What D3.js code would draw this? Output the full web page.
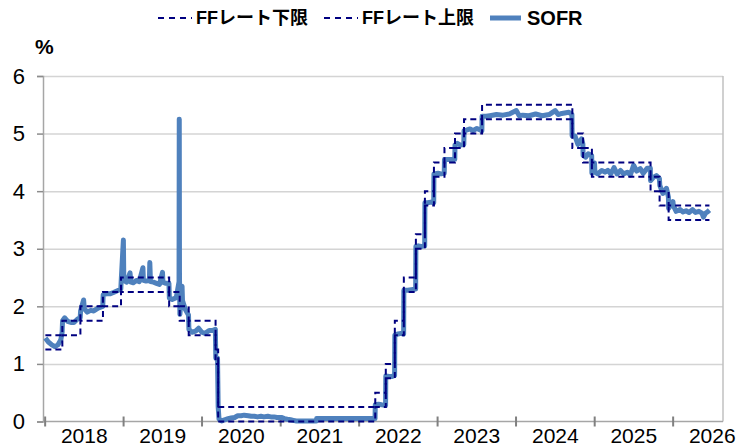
<!DOCTYPE html>
<html>
<head>
<meta charset="utf-8">
<script src="https://cdn.jsdelivr.net/npm/d3@7"></script>
<style>
    body { margin: 0; background: #fff; }
    svg { display: block; }
</style>
</head>
<body>
<svg id="chart"></svg>
<script>
// FF rate target range (change dates, lower / upper bound)
const ffDates = [
    '2018-01-02', '2018-03-22', '2018-06-14', '2018-09-27', '2018-12-20',
    '2019-08-01', '2019-09-19', '2019-10-31', '2020-03-04', '2020-03-16',
    '2022-03-17', '2022-05-05', '2022-06-16', '2022-07-28', '2022-09-22',
    '2022-11-03', '2022-12-15', '2023-02-02', '2023-03-23', '2023-05-04',
    '2023-07-27', '2024-09-19', '2024-11-08', '2024-12-19', '2025-09-18',
    '2025-10-30', '2025-12-11', '2026-06-19',
];
const ffLower = [
    1.25, 1.50, 1.75, 2.00, 2.25,
    2.00, 1.75, 1.50, 1.00, 0.00,
    0.25, 0.75, 1.50, 2.25, 3.00,
    3.75, 4.25, 4.50, 4.75, 5.00,
    5.25, 4.75, 4.50, 4.25, 4.00,
    3.75, 3.50, 3.50,
];
const ffUpper = [
    1.50, 1.75, 2.00, 2.25, 2.50,
    2.25, 2.00, 1.75, 1.25, 0.25,
    0.50, 1.00, 1.75, 2.50, 3.25,
    4.00, 4.50, 4.75, 5.00, 5.25,
    5.50, 5.00, 4.75, 4.50, 4.25,
    4.00, 3.75, 3.75,
];

// SOFR
const sofrDates = [
    '2018-01-02', '2018-01-16', '2018-02-01', '2018-02-15', '2018-03-01', '2018-03-15', '2018-03-21', '2018-03-23',
    '2018-04-02', '2018-04-16', '2018-05-01', '2018-05-15', '2018-06-01', '2018-06-13', '2018-06-15', '2018-06-29',
    '2018-07-02', '2018-07-16', '2018-08-01', '2018-08-15', '2018-09-04', '2018-09-26', '2018-09-28', '2018-10-15',
    '2018-11-01', '2018-11-15', '2018-12-03', '2018-12-19', '2018-12-21', '2018-12-31', '2019-01-02', '2019-01-15',
    '2019-01-31', '2019-02-04', '2019-02-15', '2019-03-01', '2019-03-15', '2019-04-01', '2019-04-03', '2019-04-15',
    '2019-05-01', '2019-05-03', '2019-05-06', '2019-05-20', '2019-06-03', '2019-06-17', '2019-07-01', '2019-07-03',
    '2019-07-15', '2019-07-31', '2019-08-02', '2019-08-15', '2019-09-03', '2019-09-16', '2019-09-17', '2019-09-18',
    '2019-09-20', '2019-09-30', '2019-10-02', '2019-10-15', '2019-10-30', '2019-11-01', '2019-11-15', '2019-12-02',
    '2019-12-16', '2019-12-31', '2020-01-15', '2020-02-03', '2020-02-18', '2020-03-03', '2020-03-05', '2020-03-13',
    '2020-03-16', '2020-03-20', '2020-04-01', '2020-04-15', '2020-05-01', '2020-05-15', '2020-06-01', '2020-06-15',
    '2020-07-01', '2020-07-15', '2020-08-03', '2020-08-17', '2020-09-01', '2020-09-15', '2020-10-01', '2020-10-15',
    '2020-11-02', '2020-11-16', '2020-12-01', '2020-12-15', '2021-01-04', '2021-01-19', '2021-02-01', '2021-02-16',
    '2021-03-01', '2021-03-15', '2021-04-01', '2021-05-03', '2021-06-01', '2021-06-16', '2021-06-17', '2021-07-01',
    '2021-08-02', '2021-09-01', '2021-10-01', '2021-11-01', '2021-12-01', '2022-01-03', '2022-02-01', '2022-03-16',
    '2022-03-17', '2022-04-01', '2022-04-15', '2022-05-04', '2022-05-05', '2022-05-20', '2022-06-01', '2022-06-15',
    '2022-06-16', '2022-07-01', '2022-07-15', '2022-07-27', '2022-07-28', '2022-08-15', '2022-09-01', '2022-09-21',
    '2022-09-22', '2022-10-03', '2022-10-17', '2022-11-02', '2022-11-03', '2022-11-15', '2022-12-01', '2022-12-14',
    '2022-12-15', '2023-01-03', '2023-01-17', '2023-02-01', '2023-02-02', '2023-02-15', '2023-03-01', '2023-03-22',
    '2023-03-23', '2023-04-03', '2023-04-17', '2023-05-03', '2023-05-04', '2023-05-15', '2023-06-01', '2023-06-15',
    '2023-07-03', '2023-07-26', '2023-07-27', '2023-08-15', '2023-09-01', '2023-10-02', '2023-11-01', '2023-12-01',
    '2024-01-02', '2024-01-16', '2024-02-01', '2024-03-01', '2024-04-01', '2024-05-01', '2024-06-03', '2024-07-01',
    '2024-07-15', '2024-08-01', '2024-09-03', '2024-09-17', '2024-09-18', '2024-10-01', '2024-10-15', '2024-11-01',
    '2024-11-07', '2024-11-08', '2024-11-20', '2024-12-02', '2024-12-18', '2024-12-19', '2024-12-31', '2025-01-02',
    '2025-01-15', '2025-02-03', '2025-02-18', '2025-03-03', '2025-03-17', '2025-04-01', '2025-04-15', '2025-05-01',
    '2025-05-15', '2025-06-02', '2025-06-16', '2025-07-01', '2025-07-15', '2025-08-01', '2025-08-15', '2025-09-02',
    '2025-09-17', '2025-09-18', '2025-10-01', '2025-10-15', '2025-10-29', '2025-10-31', '2025-11-14', '2025-12-01',
    '2025-12-10', '2025-12-11', '2025-12-31', '2026-01-02', '2026-01-15', '2026-02-02', '2026-02-16', '2026-03-02',
    '2026-03-16', '2026-04-01', '2026-04-15', '2026-05-01', '2026-05-15', '2026-05-22', '2026-06-01', '2026-06-10',
    '2026-06-19',
];
const sofrRates = [
    1.45, 1.38, 1.33, 1.30, 1.33, 1.42, 1.55, 1.75,
    1.80, 1.74, 1.72, 1.72, 1.78, 1.80, 1.92, 2.11,
    1.96, 1.90, 1.93, 1.92, 1.97, 2.00, 2.20, 2.22,
    2.22, 2.24, 2.27, 2.30, 2.45, 3.15, 2.45, 2.42,
    2.58, 2.42, 2.41, 2.45, 2.43, 2.67, 2.45, 2.44,
    2.45, 2.76, 2.43, 2.42, 2.40, 2.38, 2.59, 2.42,
    2.40, 2.40, 2.14, 2.12, 2.15, 2.43, 5.25, 2.55,
    1.86, 2.35, 2.10, 1.95, 1.85, 1.60, 1.55, 1.57,
    1.62, 1.55, 1.53, 1.58, 1.58, 1.60, 1.10, 1.10,
    0.26, 0.04, 0.01, 0.03, 0.05, 0.06, 0.07, 0.10,
    0.10, 0.11, 0.10, 0.09, 0.09, 0.08, 0.09, 0.08,
    0.09, 0.08, 0.08, 0.07, 0.07, 0.05, 0.04, 0.03,
    0.02, 0.01, 0.01, 0.01, 0.01, 0.01, 0.05, 0.05,
    0.05, 0.05, 0.05, 0.05, 0.05, 0.05, 0.05, 0.05,
    0.29, 0.30, 0.29, 0.28, 0.79, 0.78, 0.78, 0.80,
    1.50, 1.52, 1.53, 1.52, 2.28, 2.28, 2.29, 2.30,
    3.04, 3.05, 3.04, 3.05, 3.80, 3.80, 3.81, 3.80,
    4.30, 4.31, 4.30, 4.31, 4.55, 4.55, 4.55, 4.55,
    4.80, 4.83, 4.80, 4.81, 5.05, 5.06, 5.08, 5.05,
    5.09, 5.05, 5.30, 5.30, 5.31, 5.33, 5.32, 5.34,
    5.40, 5.31, 5.32, 5.31, 5.34, 5.31, 5.33, 5.40,
    5.33, 5.35, 5.37, 5.33, 4.96, 4.96, 4.81, 4.91,
    4.82, 4.62, 4.59, 4.65, 4.62, 4.31, 4.49, 4.33,
    4.30, 4.36, 4.33, 4.36, 4.30, 4.41, 4.30, 4.36,
    4.30, 4.33, 4.28, 4.45, 4.35, 4.39, 4.31, 4.40,
    4.40, 4.18, 4.24, 4.27, 4.22, 4.10, 3.96, 4.05,
    3.90, 3.70, 3.82, 3.75, 3.65, 3.68, 3.64, 3.66,
    3.63, 3.68, 3.63, 3.65, 3.62, 3.55, 3.62, 3.64,
    3.67,
];

const yTicks = [0, 1, 2, 3, 4, 5, 6];
const yearTicks = [2018, 2019, 2020, 2021, 2022, 2023, 2024, 2025, 2026];

const width = 748;
const height = 448;
const marginLeft = 43;
const marginRight = 25;
const marginTop = 76;
const marginBottom = 26.5;

const parse = d3.timeParse('%Y-%m-%d');
const font = '"Liberation Sans", Arial, "Noto Sans CJK JP", sans-serif';
const sofrColor = '#4F81BD';
const ffColor = '#000080';

const x = d3.scaleTime()
    .domain([new Date(2017, 11, 22), new Date(2026, 7, 21)])
    .range([marginLeft, width - marginRight]);
const y = d3.scaleLinear()
    .domain([0, 6])
    .range([height - marginBottom, marginTop]);

const svg = d3.select('#chart')
    .attr('width', width)
    .attr('height', height)
    .style('font-family', font);

// Grid lines
svg.append('g')
    .attr('transform', `translate(${marginLeft}, 0)`)
    .call(d3.axisLeft(y).tickValues(yTicks.slice(1)).tickSize(-(width - marginLeft - marginRight)).tickFormat(''))
    .call(g => g.select('.domain').remove())
    .call(g => g.selectAll('line').style('stroke', '#D4D4D4').style('stroke-width', '1.5px'));

// Right border of the plot
svg.append('line')
    .attr('x1', width - marginRight).attr('x2', width - marginRight)
    .attr('y1', y(6)).attr('y2', y(0))
    .style('stroke', '#C0C0C0').style('stroke-width', '1.5px');

// Y axis
svg.append('g')
    .attr('transform', `translate(${marginLeft}, 0)`)
    .call(d3.axisLeft(y).tickValues(yTicks).tickSize(6).tickPadding(12).tickFormat(d3.format('d')))
    .call(g => g.select('.domain').style('stroke', '#A6A6A6').style('stroke-width', '1.5px'))
    .call(g => g.selectAll('line').style('stroke', '#8C8C8C').style('stroke-width', '1.5px'))
    .call(g => g.selectAll('text').style('font-size', '22px').style('fill', '#000').style('font-family', font));

// X axis line + year ticks
const xAxisG = svg.append('g')
    .attr('transform', `translate(0, ${y(0)})`);
xAxisG.append('line')
    .attr('x1', marginLeft).attr('x2', width - marginRight)
    .style('stroke', '#A6A6A6').style('stroke-width', '1.5px');
xAxisG.selectAll('.tick-mark')
    .data(yearTicks)
    .enter()
    .append('line')
    .attr('class', 'tick-mark')
    .attr('x1', d => x(new Date(d, 0, 1)))
    .attr('x2', d => x(new Date(d, 0, 1)))
    .attr('y1', -5)
    .attr('y2', 5)
    .style('stroke', '#808080')
    .style('stroke-width', '2px');
xAxisG.selectAll('.year-label')
    .data(yearTicks)
    .enter()
    .append('text')
    .attr('class', 'year-label')
    .attr('x', d => x(new Date(d, 6, 2)))
    .attr('y', 21)
    .attr('text-anchor', 'middle')
    .style('font-size', '21px')
    .text(d => d);

// Series
const sofr = sofrDates.map((d, i) => ({date: parse(d), value: sofrRates[i]}));
const lower = ffDates.map((d, i) => ({date: parse(d), value: ffLower[i]}));
const upper = ffDates.map((d, i) => ({date: parse(d), value: ffUpper[i]}));

const sofrLine = d3.line()
    .x(d => x(d.date))
    .y(d => y(d.value));
const stepLine = d3.line()
    .x(d => x(d.date))
    .y(d => y(d.value))
    .curve(d3.curveStepAfter);

svg.append('path')
    .datum(sofr)
    .attr('d', sofrLine)
    .style('fill', 'none')
    .style('stroke', sofrColor)
    .style('stroke-width', 5)
    .style('stroke-linejoin', 'round');

[lower, upper].forEach(series => {
    svg.append('path')
        .datum(series)
        .attr('d', stepLine)
        .style('fill', 'none')
        .style('stroke', ffColor)
        .style('stroke-width', 2)
        .style('stroke-dasharray', '6,4');
});

// Unit label
svg.append('text')
    .attr('x', 35)
    .attr('y', 54)
    .style('font-size', '21px')
    .style('font-weight', 'bold')
    .text('%');

// Legend
const legend = [
    {label: 'FFレート下限', x: 158, dashed: true},
    {label: 'FFレート上限', x: 324, dashed: true},
    {label: 'SOFR', x: 490, dashed: false},
];
const legendG = svg.append('g').attr('transform', 'translate(0, 18)');
legend.forEach(item => {
    legendG.append('line')
        .attr('x1', item.x)
        .attr('x2', item.x + (item.dashed ? 34 : 31))
        .style('stroke', item.dashed ? ffColor : sofrColor)
        .style('stroke-width', item.dashed ? 2 : 5)
        .style('stroke-dasharray', item.dashed ? '6,5' : null);
    legendG.append('text')
        .attr('x', item.x + (item.dashed ? 38 : 37))
        .attr('dy', '0.36em')
        .style('font-size', item.dashed ? '18px' : '20px')
        .style('font-weight', 'bold')
        .text(item.label);
});
</script>
</body>
</html>
